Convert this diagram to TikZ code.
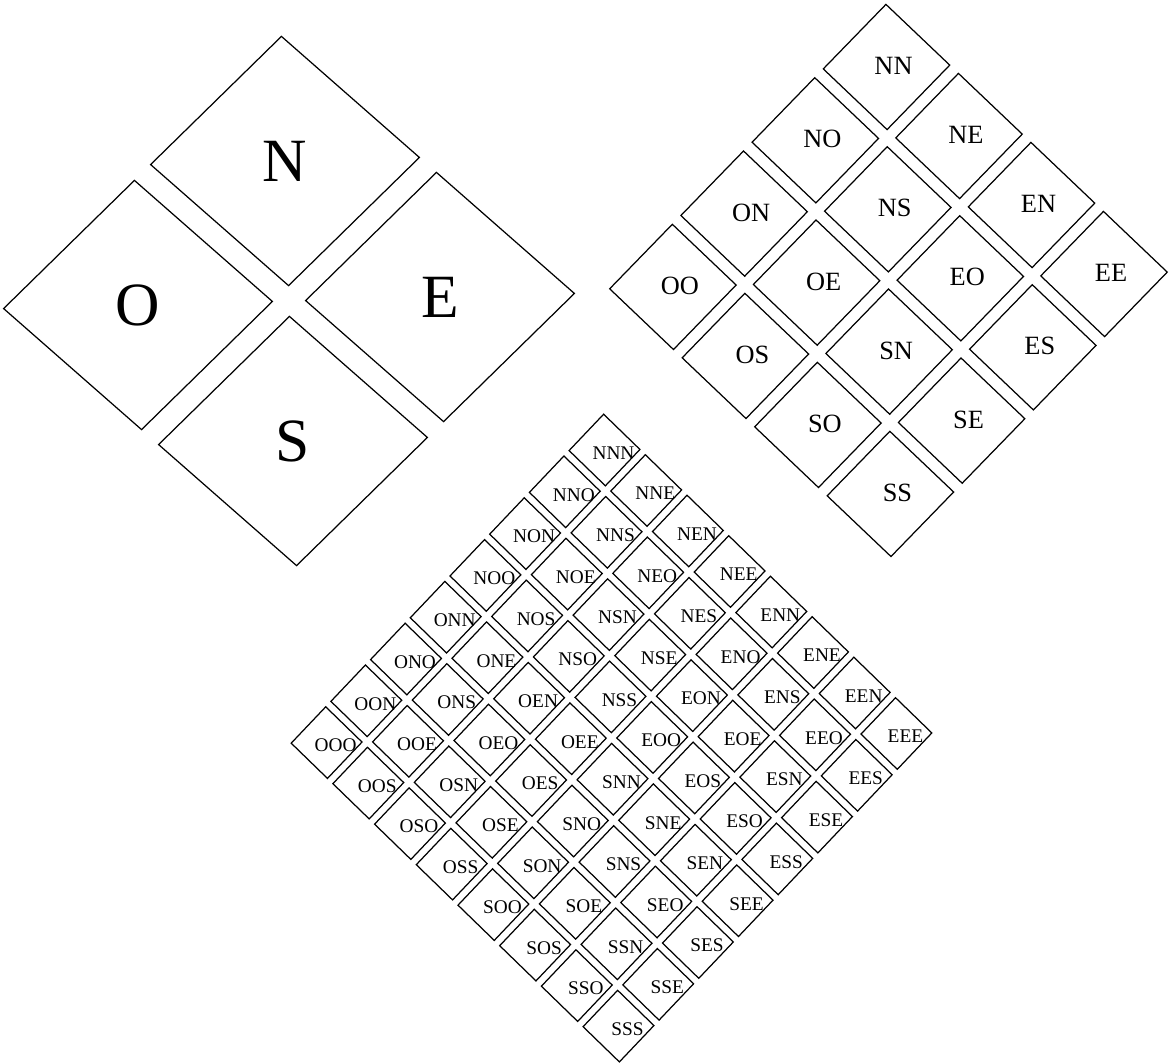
\documentclass[tikz,border=0pt]{standalone}
\usepackage{fontspec}
\setmainfont{Liberation Serif}
\usepackage{tikz}
\tikzset{tile/.style={draw=black, line width=0.35pt, line join=miter},
        big/.style={font=\fontsize{17.5}{20}\selectfont, inner sep=0pt},
        mid/.style={font=\fontsize{7.5}{9}\selectfont, inner sep=0pt,
            xshift=0.07cm, yshift=0.01cm},
        small/.style={font=\fontsize{5.5}{6.5}\selectfont, inner sep=0pt,
            xshift=0.09cm, yshift=-0.03cm}}

\begin{document}
\begin{tikzpicture}

    \useasboundingbox (0,0) rectangle (11.75,-10.62);

    % one letter
    \begin{scope}[shift={(2.85,-1.61)}, x={(1.55cm,-1.36cm)},
            y={(-1.47cm,-1.44cm)}]
        \foreach \a/\ai/\aj in {N/0/0,O/1/0,E/0/1,S/1/1} {
            \draw[tile] (\aj-0.445,\ai-0.445) -- (\aj+0.445,\ai-0.445)
                -- (\aj+0.445,\ai+0.445) -- (\aj-0.445,\ai+0.445) -- cycle;
            \node[big] (\a) at (\aj,\ai) {\a};
        }
    \end{scope}

    % two letters
    \begin{scope}[shift={(8.865,-0.67)}, x={(0.725cm,-0.69cm)},
            y={(-0.712cm,-0.733cm)}]
        \foreach \a/\ai/\aj in {N/0/0,O/1/0,E/0/1,S/1/1}
        \foreach \b/\bi/\bj in {N/0/0,O/1/0,E/0/1,S/1/1} {
            \pgfmathtruncatemacro\i{2*\ai+\bi}
            \pgfmathtruncatemacro\j{2*\aj+\bj}
            \draw[tile] (\j-0.44,\i-0.44) -- (\j+0.44,\i-0.44)
                -- (\j+0.44,\i+0.44) -- (\j-0.44,\i+0.44) -- cycle;
            \node[mid] (\a\b) at (\j,\i) {\a\b};
        }
    \end{scope}

    % three letters
    \begin{scope}[shift={(6.045,-4.50)}, x={(0.417cm,-0.405cm)},
            y={(-0.397cm,-0.418cm)}]
        \foreach \a/\ai/\aj in {N/0/0,O/1/0,E/0/1,S/1/1}
        \foreach \b/\bi/\bj in {N/0/0,O/1/0,E/0/1,S/1/1}
        \foreach \c/\ci/\cj in {N/0/0,O/1/0,E/0/1,S/1/1} {
            \pgfmathtruncatemacro\i{4*\ai+2*\bi+\ci}
            \pgfmathtruncatemacro\j{4*\aj+2*\bj+\cj}
            \draw[tile] (\j-0.435,\i-0.435) -- (\j+0.435,\i-0.435)
                -- (\j+0.435,\i+0.435) -- (\j-0.435,\i+0.435) -- cycle;
            \node[small] (\a\b\c) at (\j,\i) {\a\b\c};
        }
    \end{scope}

\end{tikzpicture}
\end{document}
